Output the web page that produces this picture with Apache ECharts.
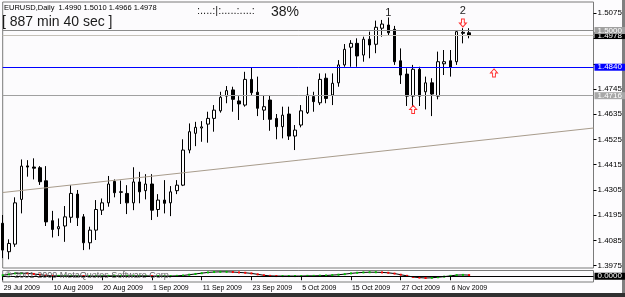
<!DOCTYPE html>
<html><head><meta charset="utf-8">
<script src="https://cdn.jsdelivr.net/npm/echarts@6/dist/echarts.min.js"></script>
<style>html,body{margin:0;padding:0;background:#fff}#c{width:625px;height:297px}</style>
</head><body><div id="c"></div><script>
const dates = ['29 Jul 2009','30 Jul 2009','31 Jul 2009','3 Aug 2009','4 Aug 2009','5 Aug 2009','6 Aug 2009','7 Aug 2009',
'10 Aug 2009','11 Aug 2009','12 Aug 2009','13 Aug 2009','14 Aug 2009','17 Aug 2009','18 Aug 2009','19 Aug 2009',
'20 Aug 2009','21 Aug 2009','24 Aug 2009','25 Aug 2009','26 Aug 2009','27 Aug 2009','28 Aug 2009','31 Aug 2009',
'1 Sep 2009','2 Sep 2009','3 Sep 2009','4 Sep 2009','7 Sep 2009','8 Sep 2009','9 Sep 2009','10 Sep 2009',
'11 Sep 2009','14 Sep 2009','15 Sep 2009','16 Sep 2009','17 Sep 2009','18 Sep 2009','21 Sep 2009','22 Sep 2009',
'23 Sep 2009','24 Sep 2009','25 Sep 2009','28 Sep 2009','29 Sep 2009','30 Sep 2009','1 Oct 2009','2 Oct 2009',
'5 Oct 2009','6 Oct 2009','7 Oct 2009','8 Oct 2009','9 Oct 2009','12 Oct 2009','13 Oct 2009','14 Oct 2009',
'15 Oct 2009','16 Oct 2009','19 Oct 2009','20 Oct 2009','21 Oct 2009','22 Oct 2009','23 Oct 2009','26 Oct 2009',
'27 Oct 2009','28 Oct 2009','29 Oct 2009','30 Oct 2009','2 Nov 2009','3 Nov 2009','4 Nov 2009','5 Nov 2009',
'6 Nov 2009','9 Nov 2009','10 Nov 2009','11 Nov 2009',
'12 Nov 2009','13 Nov 2009','16 Nov 2009','17 Nov 2009','18 Nov 2009','19 Nov 2009','20 Nov 2009','23 Nov 2009',
'24 Nov 2009','25 Nov 2009','26 Nov 2009','27 Nov 2009','30 Nov 2009','1 Dec 2009','2 Dec 2009','3 Dec 2009',
'4 Dec 2009','7 Dec 2009','8 Dec 2009','9 Dec 2009'];

const opens = [1.4160,1.4036,1.4069,1.4264,1.4410,1.4405,1.4402,1.4345,
1.4171,1.4136,1.4148,1.4186,1.4287,1.4188,1.4075,1.4130,
1.4217,1.4249,1.4342,1.4297,1.4290,1.4249,1.4340,1.4302,
1.4331,1.4220,1.4261,1.4249,1.4302,1.4326,1.4479,1.4552,
1.4575,1.4592,1.4617,1.4650,1.4714,1.4741,1.4693,1.4675,
1.4787,1.4731,1.4653,1.4697,1.4617,1.4581,1.4636,1.4540,
1.4588,1.4642,1.4712,1.4685,1.4792,1.4719,1.4772,1.4850,
1.4927,1.4944,1.4893,1.4962,1.4940,1.5010,1.5024,1.5005,
1.4868,1.4810,1.4714,1.4831,1.4733,1.4772,1.4714,1.4855,
1.4868,1.4864,1.4992,1.4990];
const closes = [1.4043,1.4072,1.4249,1.4409,1.4405,1.4400,1.4341,1.4166,
1.4133,1.4145,1.4188,1.4290,1.4184,1.4075,1.4130,1.4220,
1.4249,1.4331,1.4293,1.4295,1.4249,1.4340,1.4297,1.4331,
1.4217,1.4261,1.4247,1.4297,1.4326,1.4479,1.4559,1.4578,
1.4580,1.4617,1.4653,1.4709,1.4738,1.4700,1.4680,1.4787,
1.4729,1.4661,1.4668,1.4613,1.4581,1.4631,1.4540,1.4566,
1.4650,1.4719,1.4690,1.4787,1.4704,1.4770,1.4850,1.4918,
1.4944,1.4889,1.4962,1.4937,1.5014,1.5028,1.4990,1.4864,
1.4806,1.4714,1.4831,1.4714,1.4772,1.4723,1.4864,1.4864,
1.4839,1.4995,1.4988,1.4978];
const lows = [1.4008,1.4003,1.4057,1.4203,1.4363,1.4351,1.4327,1.4148,
1.4098,1.4104,1.4079,1.4162,1.4148,1.4043,1.4046,1.4087,
1.4196,1.4232,1.4273,1.4244,1.4200,1.4217,1.4247,1.4264,
1.4174,1.4188,1.4203,1.4191,1.4287,1.4322,1.4465,1.4496,
1.4515,1.4511,1.4559,1.4642,1.4683,1.4646,1.4610,1.4668,
1.4719,1.4627,1.4610,1.4563,1.4526,1.4530,1.4523,1.4479,
1.4578,1.4636,1.4646,1.4675,1.4683,1.4675,1.4755,1.4842,
1.4842,1.4842,1.4864,1.4879,1.4901,1.4973,1.4980,1.4850,
1.4767,1.4671,1.4668,1.4671,1.4656,1.4627,1.4700,1.4806,
1.4799,1.4850,1.4944,1.4966];
const highs = [1.4196,1.4090,1.4273,1.4438,1.4435,1.4443,1.4409,1.4409,
1.4214,1.4181,1.4235,1.4326,1.4305,1.4200,1.4145,1.4261,
1.4268,1.4366,1.4351,1.4346,1.4326,1.4404,1.4384,1.4374,
1.4374,1.4287,1.4348,1.4322,1.4348,1.4526,1.4595,1.4602,
1.4605,1.4646,1.4675,1.4733,1.4758,1.4755,1.4714,1.4820,
1.4840,1.4799,1.4719,1.4719,1.4636,1.4668,1.4668,1.4588,
1.4675,1.4755,1.4733,1.4813,1.4813,1.4813,1.4871,1.4941,
1.4958,1.4966,1.4973,1.4995,1.5043,1.5046,1.5057,1.5020,
1.4922,1.4835,1.4850,1.4842,1.4799,1.4792,1.4908,1.4915,
1.4915,1.5002,1.5010,1.5010];

const oscValues = [0.5,1,1.5,1.6,1.5,1.2,0.8,0.4,
0.2,0.2,0.2,0.2,0.2,0.1,0.1,0.1,
0.2,0.2,0.2,0.2,0.2,0.2,0.2,0.2,
0.1,0.1,0.1,0.1,0.2,0.4,0.8,1.2,
1.6,2,2.2,2.3,2.3,2.2,2,1.8,
1.5,1,0.5,0.2,0.1,0.1,0.1,0.1,
0.1,0.2,0.2,0.3,0.4,0.6,0.8,1.1,
1.5,1.8,2,2.1,2.1,2,1.8,1.4,
0.8,0.2,-0.4,-0.7,-0.9,-0.8,-0.5,-0.2,
0.2,0.6,0.7,0.6];

const axisDates = ['29 Jul 2009','10 Aug 2009','20 Aug 2009','1 Sep 2009','11 Sep 2009','23 Sep 2009','5 Oct 2009','15 Oct 2009','27 Oct 2009','6 Nov 2009'];
const priceLabels = [1.5075,1.4745,1.4635,1.4525,1.4415,1.4305,1.4195,1.4085,1.3975];
const priceTicks = [1.5075,1.4965,1.4855,1.4745,1.4635,1.4525,1.4415,1.4305,1.4195,1.4085,1.3975];
const levelValues = [1.4978, 1.5000, 1.4840, 1.4716];
const trendStart = [0, 1.4294];
const trendEnd = [95, 1.4575];
const waveText = ['1','2'];
const waveIndex = [62, 74];
const wavePrice = [1.5078, 1.5085];
const arrowIndex = [74, 66, 79];
const arrowPrice = [1.5033, 1.4656, 1.4815];
const arrowDir = ['down','up','up'];
const symbolName = 'EURUSD,Daily';
const timerText = '[ 887 min 40 sec ]';
const progressText = '38%';
const progressBar = ':....:|:.....:....:';
const copyright = '\u00a9 2001-2009 MetaQuotes Software Corp.';

const FONT = '"Liberation Sans", Arial, sans-serif';
const levelStyles = [
  {line:'#c4c0b8', bg:'#000000', fg:'#ffffff'},
  {line:'#8c8c8c', bg:'#a0a0a0', fg:'#ffffff'},
  {line:'#0000ff', bg:'#0000ff', fg:'#ffffff'},
  {line:'#a0a0a0', bg:'#a8a8a8', fg:'#ffffff'}
];
const downArrow = 'path://M3,0 L7,0 L7,5 L10,5 L5,10 L0,5 L3,5 Z';
const upArrow = 'path://M5,0 L10,5 L7,5 L7,10 L3,10 L3,5 L0,5 Z';

const candleData = opens.map((o,i)=>[o, closes[i], lows[i], highs[i]]);
const oscData = oscValues.map((v,i)=>({value:v, itemStyle:{color: (i>0 && v<oscValues[i-1]) ? '#ff0000' : '#00c000'}}));

const chart = echarts.init(document.getElementById('c'), null, {renderer:'canvas'});
const labelShow = (idx, val) => axisDates.indexOf(val) >= 0;

chart.setOption({
  animation:false,
  backgroundColor:'#fdfcfe',
  grid:[
    {left:2.7, right:31.5, top:2, height:266, show:true, borderColor:'#7a7a7a', borderWidth:1, backgroundColor:'#fcfbfd'},
    {left:2.7, right:31.5, top:270.5, height:11.5, show:true, borderColor:'#7a7a7a', borderWidth:1, backgroundColor:'#fcfbfd'}
  ],
  xAxis:[
    {type:'category', gridIndex:0, data:dates, boundaryGap:false,
     axisLine:{show:false}, axisTick:{show:false}, axisLabel:{show:false}, splitLine:{show:false}},
    {type:'category', gridIndex:1, data:dates, boundaryGap:false,
     axisLine:{show:false},
     axisTick:{show:true, interval:labelShow, length:4, lineStyle:{color:'#000'}},
     axisLabel:{show:true, interval:labelShow, align:'left', margin:3, padding:[0,0,0,1], fontSize:7, fontFamily:FONT, color:'#000'},
     splitLine:{show:false}}
  ],
  yAxis:[
    {type:'value', gridIndex:0, position:'right', min:1.3965, max:1.51242, scale:true,
     axisLine:{show:false},
     axisTick:{show:true, length:3, customValues:priceTicks, lineStyle:{color:'#000'}},
     axisLabel:{show:true, customValues:priceLabels, margin:4, fontSize:8, fontFamily:FONT, color:'#000', formatter:v=>v.toFixed(4)},
     splitLine:{show:false}},
    {type:'value', gridIndex:1, position:'right', min:-3, max:3,
     axisLine:{show:false}, axisTick:{show:false}, axisLabel:{show:false}, splitLine:{show:false}}
  ],
  series:[
    {type:'candlestick', xAxisIndex:0, yAxisIndex:0, data:candleData, barWidth:3,
     itemStyle:{color:'#ffffff', color0:'#000000', borderColor:'#000000', borderColor0:'#000000', borderWidth:1},
     markLine:{silent:true, symbol:'none', animation:false, precision:4,
       data: levelValues.map((v,k)=>({yAxis:v,
          lineStyle:{color:levelStyles[k].line, width:1, type:'solid'},
          label:{show:true, position:'end', distance:1, formatter:v.toFixed(4), fontSize:8, fontFamily:FONT,
                 color:levelStyles[k].fg, backgroundColor:levelStyles[k].bg, padding:[0,3,0,3], lineHeight:7}}))
         .concat([[{coord:trendStart, lineStyle:{color:'#a89c8c', width:1, type:'solid'}, label:{show:false}}, {coord:trendEnd}]])
     },
     markPoint:{silent:true, animation:false,
       data: waveText.map((t,k)=>({coord:[waveIndex[k], wavePrice[k]], symbol:'circle', symbolSize:1,
                 itemStyle:{color:'rgba(0,0,0,0)'},
                 label:{show:true, position:'inside', formatter:t, fontSize:11, fontFamily:FONT, color:'#222'}}))
         .concat(arrowIndex.map((x,k)=>({coord:[x, arrowPrice[k]], symbol: arrowDir[k]==='down'?downArrow:upArrow,
                 symbolSize:[7,8], itemStyle:{color:'#ffffff', borderColor:'#ff3030', borderWidth:1}, label:{show:false}})))
     }
    },
    {type:'line', xAxisIndex:1, yAxisIndex:1, data:oscData, symbol:'rect', symbolSize:2, showSymbol:true,
     lineStyle:{color:'#000', width:1}, itemStyle:{color:'#000'},
     markLine:{silent:true, symbol:'none', precision:4, data:[{yAxis:0, lineStyle:{color:'#000', width:1, type:'solid'},
       label:{show:true, position:'end', distance:1, formatter:'0.0000', fontSize:8, fontFamily:FONT, color:'#fff', backgroundColor:'#000', padding:[0,3,0,3], lineHeight:7}}]}
    }
  ],
  graphic:[
    {type:'text', left:4, top:4, style:{text: symbolName+'  '+[opens[75],highs[75],lows[75],closes[75]].map(v=>v.toFixed(4)).join(' '), font:'7.5px '+FONT, fill:'#000'}},
    {type:'text', left:2, top:15, style:{text: timerText, font:'14px '+FONT, fill:'#1a1a1a'}},
    {type:'text', left:197, top:5, style:{text: progressBar, font:'11px '+FONT, fill:'#222'}},
    {type:'text', left:271, top:5, style:{text: progressText, font:'14px '+FONT, fill:'#1a1a1a'}},
    {type:'text', left:5, top:271.5, z:50, style:{text: copyright, font:'9px '+FONT, fill:'#666'}}
  ].concat([
    {type:'rect', left:622, top:0, shape:{width:3, height:297}, style:{fill:'#808080'}},
    {type:'rect', left:0, top:293, shape:{width:625, height:4}, style:{fill:'#303030'}}
  ])
});
</script></body></html>
